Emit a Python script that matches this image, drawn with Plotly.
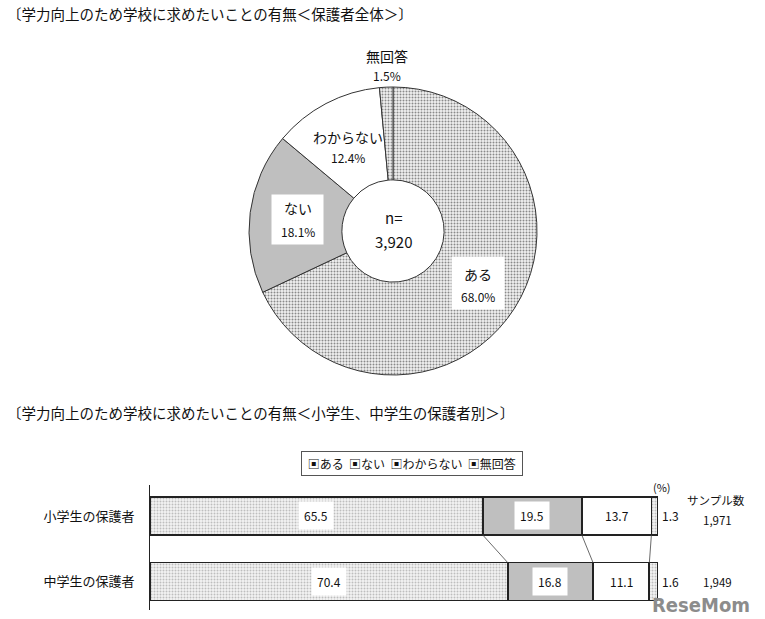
import plotly.graph_objects as go

# ---- data ----
pie_labels = ["ある", "ない", "わからない", "無回答"]
pie_values = [68.0, 18.1, 12.4, 1.5]
pie_n = "3,920"

groups = ["小学生の保護者", "中学生の保護者"]
series_names = ["ある", "ない", "わからない", "無回答"]
series_values = {
    "ある": [65.5, 70.4],
    "ない": [19.5, 16.8],
    "わからない": [13.7, 11.1],
    "無回答": [1.3, 1.6],
}
sample_sizes = ["1,971", "1,949"]

title1 = "〔学力向上のため学校に求めたいことの有無＜保護者全体＞〕"
title2 = "〔学力向上のため学校に求めたいことの有無＜小学生、中学生の保護者別＞〕"

FONT = "Noto Sans CJK JP, Noto Sans, sans-serif"
W, H = 765, 619
EDGE = "#333333"

def dot_pattern():
    return dict(shape=".", fgcolor="#8a8a8a", bgcolor="#f2f2f2", size=3, solidity=0.35)

fill_colors = {"ある": "#e4e4e4", "ない": "#bfbfbf", "わからない": "#ffffff", "無回答": "#e4e4e4"}
patterned = {"ある": True, "ない": False, "わからない": False, "無回答": True}

def px(x):
    return x / W

def py(y):
    return 1 - y / H

fig = go.Figure()

# ---- pie ----
fig.add_trace(go.Pie(
    labels=pie_labels, values=pie_values, sort=False, direction="clockwise", rotation=0,
    hole=0.355, textinfo="none", hoverinfo="label+percent", showlegend=False,
    marker=dict(colors=[fill_colors[l] for l in pie_labels],
                pattern=dict(shape=[("." if patterned[l] else "") for l in pie_labels],
                             fgcolor="#8a8a8a", size=3, solidity=0.35,
                             bgcolor=[("#f2f2f2" if patterned[l] else fill_colors[l]) for l in pie_labels]),
                line=dict(color=EDGE, width=1)),
    domain=dict(x=[px(249), px(537)], y=[py(375), py(87)]),
))

# ---- stacked bars ----
for name in series_names:
    fig.add_trace(go.Bar(
        name=name, y=groups, x=series_values[name], orientation="h", width=0.58,
        marker=dict(color=fill_colors[name], line=dict(color="#222222", width=1.8),
                    pattern=(dot_pattern() if patterned[name] else dict(shape=""))),
        xaxis="x", yaxis="y", hoverinfo="x+name", showlegend=False,
    ))

annotations = []
def note(text, x, y, size=12, **kw):
    d = dict(text=text, x=px(x), y=py(y), xref="paper", yref="paper", showarrow=False,
             xanchor="center", yanchor="middle", font=dict(size=size, color="#111"))
    d.update(kw)
    annotations.append(d)

# titles
note(title1, 5, 13, 14.5, xanchor="left")
note(title2, 5, 413, 14.5, xanchor="left")

# pie labels: white boxes first, then text lines
note("", 297.5, 219, 12, width=49, height=47, bgcolor="white")
note("", 478, 283, 12, width=50, height=50, bgcolor="white")
pie_label_pos = {"無回答": (387, 56, 75), "わからない": (348, 137, 157),
                 "ない": (297.5, 208, 231), "ある": (478, 274, 296)}
for lab, val in zip(pie_labels, pie_values):
    x, y1, y2 = pie_label_pos[lab]
    note(lab, x, y1, 14)
    note(f"{val:.1f}%", x, y2, 12)
note("n=", 394, 217, 15)
note(pie_n, 394, 241, 15)

# legend (drawn as a boxed text row, like the reference)
legend_text = "  ".join(f"▣{n}" for n in series_names)
note(" " + legend_text + " ", 412, 463, 12, bordercolor="#555", borderwidth=1,
     borderpad=3, bgcolor="white")

# bar value labels
for gi, g in enumerate(groups):
    cum = 0
    for name in series_names:
        v = series_values[name][gi]
        if name == "無回答":
            annotations.append(dict(text=f"{v:.1f}", x=1.024, y=g, xref="x domain", yref="y",
                                    xanchor="center", yanchor="middle", showarrow=False,
                                    font=dict(size=12, color="#111")))
        else:
            annotations.append(dict(text=f"{v:.1f}", x=cum + v / 2, y=g, xref="x", yref="y",
                                    xanchor="center", yanchor="middle", showarrow=False,
                                    font=dict(size=12, color="#111"),
                                    bgcolor="white", borderpad=5))
        cum += v
    annotations.append(dict(text=sample_sizes[gi], x=px(717), y=g, xref="paper", yref="y",
                            xanchor="center", yanchor="middle",
                            yshift=(-4 if gi == 0 else 0), showarrow=False,
                            font=dict(size=11.5, color="#111")))

note("サンプル数", 716, 500, 11.5)
note("(%)", 662, 487, 11)
note("<b>ReseMom</b>", 752, 605, 20, xanchor="right",
     font=dict(size=20, color="#8c8c8c", family="Liberation Sans Narrow, DejaVu Sans Condensed, sans-serif"))

# connector lines between the two bars
shapes = []
cum1, cum2 = 0, 0
for name in series_names[:-1]:
    cum1 += series_values[name][0]
    cum2 += series_values[name][1]
    shapes.append(dict(type="line", xref="x", yref="y", x0=cum1, y0=0.29, x1=cum2, y1=0.71,
                       line=dict(color="#444", width=0.8)))

fig.update_layout(
    width=W, height=H, margin=dict(l=0, r=0, t=0, b=0),
    paper_bgcolor="white", plot_bgcolor="white",
    font=dict(family=FONT, color="#111"),
    barmode="stack", bargap=0.4, showlegend=False,
    xaxis=dict(domain=[px(150), px(658)], range=[0, 100], visible=False, fixedrange=True),
    yaxis=dict(domain=[py(610), py(485)], type="category", categoryorder="array",
               categoryarray=groups, range=[1.435, -0.473], showline=True, linecolor="#222",
               linewidth=1, ticks="", showgrid=False, zeroline=False,
               tickfont=dict(size=13, color="#111"), ticklabelstandoff=12),
    annotations=annotations, shapes=shapes,
)

fig.write_html("out.html", config={"displayModeBar": False},
               post_script="document.body.style.margin='0px';")
